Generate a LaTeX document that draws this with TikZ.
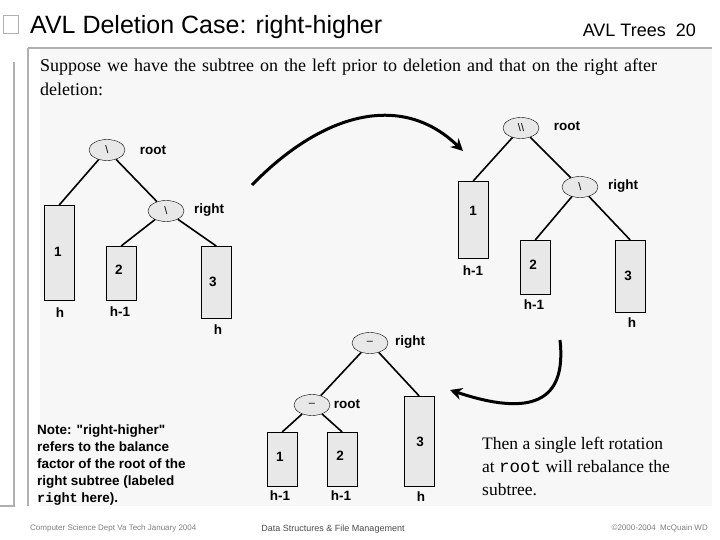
\documentclass[tikz,border=0pt]{standalone}
\usepackage{fontspec}
\setmainfont{Liberation Serif}
\setsansfont{Liberation Sans}
\setmonofont{Liberation Mono}
\usetikzlibrary{shapes.geometric,arrows.meta}
\definecolor{panel}{HTML}{F7F7F7}
\definecolor{boxf}{HTML}{E8E8E8}
\definecolor{frame}{HTML}{B0B0B0}
\tikzset{
 bal/.style={draw,ellipse,fill=boxf,minimum width=36pt,minimum height=21pt,inner sep=0pt,font=\sffamily\fontsize{11}{12}\selectfont},
 sub/.style={draw,fill=boxf,anchor=north west,inner sep=0pt},
 lbl/.style={font=\sffamily\bfseries\fontsize{13.5}{15}\selectfont,inner sep=0pt},
 edge/.style={line width=1.6pt},
 bigarrow/.style={line width=3pt,-{Stealth[length=12pt,width=12pt]}}
}
\begin{document}
\begin{tikzpicture}[x=1pt,y=-1pt]
\useasboundingbox (0,0) rectangle (720,540);
\fill[white] (0,0) rectangle (720,540);
\fill[panel] (40,48) rectangle (712,506);
\draw[frame,line width=2pt] (28,48) -- (712,48);
\draw[frame,line width=2pt] (28,48) -- (28,506);
\draw[frame,line width=1.5pt] (14,62) -- (14,506) -- (0,506);
\draw[frame,line width=1pt,fill=white] (3,16) rectangle (18,34);
\node[anchor=west,font=\sffamily\fontsize{25}{27}\selectfont,inner sep=0pt] (title) at (30,27) {AVL Deletion Case: right-higher};
\node[anchor=east,font=\sffamily\fontsize{18}{20}\selectfont,inner sep=0pt] (pg) at (696,30) {AVL Trees\ \ 20};
\node[anchor=north west,align=left,text width=625pt,font=\fontsize{18}{24}\selectfont,inner sep=0pt] (intro) at (40,59) {Suppose we have the subtree on the left prior to deletion and that on the right after deletion:};

% left tree
\node[bal] (lr) at (107,150) {\textbackslash};
\node[lbl] (lrl) at (153,150) {root};
\node[bal] (lt) at (166,211) {\textbackslash};
\node[lbl] (ltl) at (209,210) {right};
\node[sub,minimum width=30pt,minimum height=95pt] (l1) at (44,205) {};
\node[sub,minimum width=30pt,minimum height=54pt] (l2) at (106,246) {};
\node[sub,minimum width=30pt,minimum height=72pt] (l3) at (201,246) {};
\node[lbl] at (58,252) {1}; \node[lbl] at (60,313) {h};
\node[lbl] at (119,270) {2}; \node[lbl] at (120,312) {h-1};
\node[lbl] at (213,282) {3}; \node[lbl] at (218,330) {h};
\draw[edge] (lr) -- (l1.north); \draw[edge] (lr) -- (lt);
\draw[edge] (lt) -- (l2.north); \draw[edge] (lt) -- (l3.north);

% right tree
\node[bal] (rr) at (521,128) {\textbackslash\textbackslash};
\node[lbl] at (567,126) {root};
\node[bal] (rt) at (580,187) {\textbackslash};
\node[lbl] at (623,186) {right};
\node[sub,minimum width=30pt,minimum height=77pt] (r1) at (458,181) {};
\node[sub,minimum width=30pt,minimum height=54pt] (r2) at (520,240) {};
\node[sub,minimum width=30pt,minimum height=72pt] (r3) at (615,240) {};
\node[lbl] at (473,211) {1}; \node[lbl] at (473,271) {h-1};
\node[lbl] at (533,265) {2}; \node[lbl] at (534,305) {h-1};
\node[lbl] at (628,276) {3}; \node[lbl] at (632,323) {h};
\draw[edge] (rr) -- (r1.north); \draw[edge] (rr) -- (rt);
\draw[edge] (rt) -- (r2.north); \draw[edge] (rt) -- (r3.north);

% bottom tree
\node[bal] (br) at (370,343) {--};
\node[lbl] at (410,342) {right};
\node[bal] (bt) at (312,405) {--};
\node[lbl] at (347,404) {root};
\node[sub,minimum width=30pt,minimum height=54pt] (b1) at (267,432) {};
\node[sub,minimum width=30pt,minimum height=54pt] (b2) at (327,432) {};
\node[sub,minimum width=30pt,minimum height=90pt] (b3) at (404,396) {};
\node[lbl] at (280,457) {1}; \node[lbl] at (280,496) {h-1};
\node[lbl] at (340,456) {2}; \node[lbl] at (341,496) {h-1};
\node[lbl] at (420,442) {3}; \node[lbl] at (421,497) {h};
\draw[edge] (br) -- (bt); \draw[edge] (br) -- (b3.north);
\draw[edge] (bt) -- (b1.north); \draw[edge] (bt) -- (b2.north);

% arrows
\coordinate (a1s) at (252,185); \coordinate (a1e) at (463,151);
\draw[bigarrow] (a1s) .. controls (320,115) and (400,90) .. (a1e);
\coordinate (a2s) at (560,340); \coordinate (a2e) at (450,390);
\draw[bigarrow] (a2s) .. controls (566,395) and (540,420) .. (a2e);

\node[anchor=north west,align=left,font=\sffamily\bfseries\fontsize{13.5}{17}\selectfont,inner sep=0pt] (note) at (37,425) {Note: \textquotedbl right-higher\textquotedbl\\refers to the balance\\factor of the root of the\\right subtree (labeled\\{\ttfamily right} here).};
\node[anchor=north west,align=left,font=\fontsize{17.5}{23}\selectfont,inner sep=0pt] (concl) at (482,437) {Then a single left rotation\\at {\ttfamily root} will rebalance the\\subtree.};
\node[anchor=west,text=gray,font=\sffamily\fontsize{8}{9}\selectfont,inner sep=0pt] (f1) at (30,528) {Computer Science Dept Va Tech January 2004};
\node[text=black!70,font=\sffamily\fontsize{9}{10}\selectfont,inner sep=0pt] (f2) at (333,529) {Data Structures \& File Management};
\node[anchor=east,text=gray,font=\sffamily\fontsize{8}{9}\selectfont,inner sep=0pt] (f3) at (708,528) {©2000-2004\ \ McQuain WD};
\end{tikzpicture}
\end{document}
